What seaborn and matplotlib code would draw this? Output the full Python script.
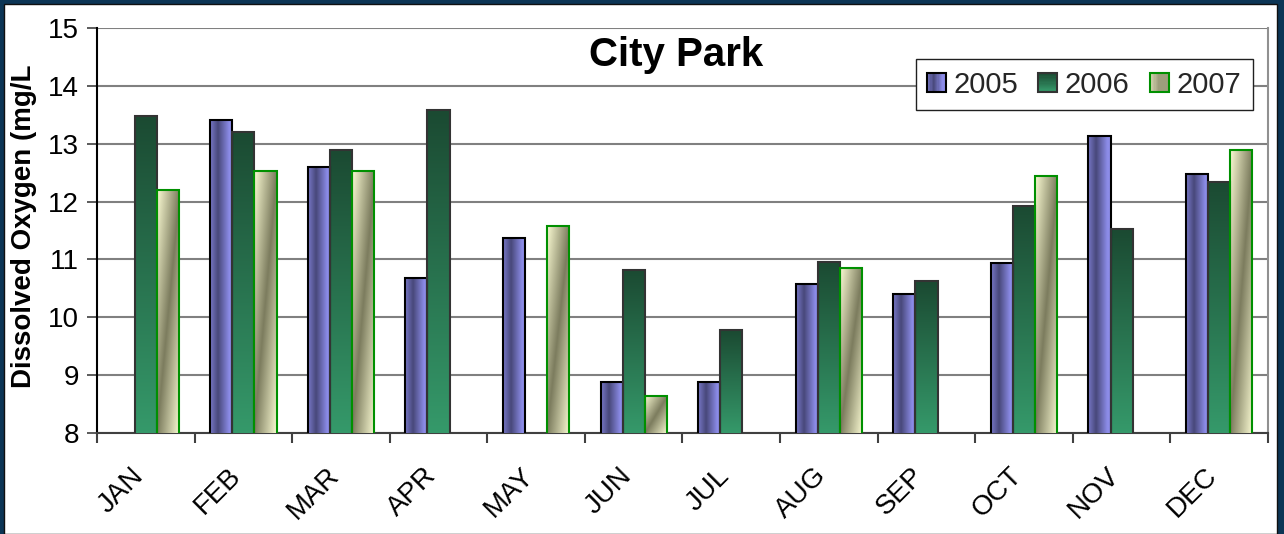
import numpy as np
import pandas as pd
import matplotlib
matplotlib.use("Agg")
import matplotlib.pyplot as plt
from matplotlib.patches import Rectangle
from matplotlib.legend_handler import HandlerBase
from matplotlib.colors import to_rgb
import matplotlib.transforms as mtransforms
import seaborn as sns

months = ["JAN", "FEB", "MAR", "APR", "MAY", "JUN", "JUL", "AUG", "SEP", "OCT", "NOV", "DEC"]
years = ["2005", "2006", "2007"]
v2005 = [np.nan, 13.41, 12.59, 10.68, 11.37, 8.89, 8.89, 10.58, 10.40, 10.94, 13.14, 12.48]
v2006 = [13.48, 13.21, 12.90, 13.59, np.nan, 10.82, 9.78, 10.96, 10.62, 11.93, 11.52, 12.34]
v2007 = [12.20, 12.52, 12.52, np.nan, 11.58, 8.64, np.nan, 10.85, np.nan, 12.45, np.nan, 12.89]
yticks = [8, 9, 10, 11, 12, 13, 14, 15]

rows = []
for yr, vals in zip(years, [v2005, v2006, v2007]):
    for m, v in zip(months, vals):
        rows.append({"month": m, "year": yr, "value": v})
df = pd.DataFrame(rows).dropna()

sns.set_theme(style="white")
plt.rcParams["font.family"] = ["Liberation Sans", "DejaVu Sans"]

fig = plt.figure(figsize=(12.84, 5.34), dpi=100)
fig.patch.set_facecolor("#0c3555")
fig.patches.append(Rectangle((4 / 1284, 0), 1273 / 1284, 530 / 534,
                             transform=fig.transFigure, facecolor="white",
                             edgecolor="#101010", lw=1.0, zorder=-10))
ax = fig.add_axes([97 / 1284, 101 / 534, 1171 / 1284, 405 / 534])
ax.set_facecolor("white")

palette = {"2005": "#6a6ab8", "2006": "#2a7a50", "2007": "#c8c8a0"}
edges = {"2005": "#000000", "2006": "#333333", "2007": "#009000"}

sns.barplot(data=df, x="month", y="value", hue="year", order=months,
            hue_order=years, palette=palette, width=0.68, gap=0,
            errorbar=None, legend=False, ax=ax, zorder=3)

def grad_img(year, n=64):
    u = np.linspace(0, 1, n)
    if year == "2005":
        light = np.array(to_rgb("#8c8ce8"))
        dark = np.array(to_rgb("#48487a"))
        t = np.interp(u, [0, 0.35, 0.85, 1.0], [0.3, 1.0, 0.0, 0.0])
        row = light[None, :] * (1 - t[:, None]) + dark[None, :] * t[:, None]
        return np.tile(row[None, :, :], (n, 1, 1))
    if year == "2006":
        top = np.array(to_rgb("#1b4a32"))
        bot = np.array(to_rgb("#35996a"))
        t = u  # 0 at top row
        col = top[None, :] * (1 - t[:, None]) + bot[None, :] * t[:, None]
        return np.tile(col[:, None, :], (1, n, 1))
    cream = np.array(to_rgb("#fafad2"))
    olive = np.array(to_rgb("#7c7c5e"))
    U, V = np.meshgrid(u, u)  # V: 0 at top row
    s = U + V  # tl=0, tr=1, bl=1, br=2
    t = 1 - np.abs(s - 1)
    return cream[None, None, :] * (1 - t[..., None]) + olive[None, None, :] * t[..., None]

ymin, ymax = 8, 15
for yr, cont in zip(years, ax.containers):
    img = grad_img(yr)
    for p in cont.patches:
        h = p.get_height()
        if not np.isfinite(h):
            continue
        x0, w = p.get_x(), p.get_width()
        y1 = p.get_y() + h
        y0 = max(p.get_y(), ymin)
        ax.imshow(img, extent=[x0, x0 + w, y0, y1], aspect="auto", zorder=3,
                  interpolation="bilinear")
        p.set_facecolor("none")
        p.set_edgecolor(edges[yr])
        p.set_linewidth(1.5)
        p.set_zorder(4)

ax.set_xlim(-0.5, 11.5)
ax.set_ylim(ymin, ymax)
ax.set_yticks(yticks)
ax.yaxis.grid(True, color="#808080", lw=1.5, zorder=0)
ax.set_axisbelow(True)
ax.set_xlabel("")
ax.set_ylabel("")

ax.spines["top"].set_visible(False)
ax.spines["left"].set_color("black")
ax.spines["left"].set_linewidth(1.5)
ax.spines["bottom"].set_color("#404040")
ax.spines["bottom"].set_linewidth(1.5)
ax.spines["right"].set_color("#909090")
ax.spines["right"].set_linewidth(1.5)

ax.tick_params(axis="y", which="major", left=True, length=7, width=1.2,
               color="#404040", labelsize=20, pad=6, labelcolor="black")
ax.set_xticks(np.arange(-0.5, 12, 1), minor=True)
ax.tick_params(axis="x", which="minor", bottom=True, length=7, width=1.5,
               color="#404040")
ax.tick_params(axis="x", which="major", bottom=False, length=0, pad=28)
ax.set_xticks(range(len(months)))
ax.set_xticklabels(months, rotation=45, ha="right", va="center",
                   rotation_mode="anchor", fontsize=20, color="black")
shift = mtransforms.ScaledTranslation(-6 / 100, 0, fig.dpi_scale_trans)
for lab in ax.get_xticklabels():
    lab.set_transform(lab.get_transform() + shift)

fig.text(676 / 1284, 1 - 55 / 534, "City Park", ha="center", va="center",
         fontsize=29, fontweight="bold", color="black")
fig.text(24 / 1284, 1 - 226 / 534, "Dissolved Oxygen (mg/L", rotation=90,
         ha="center", va="center", fontsize=20, fontweight="bold", color="black")


class GradHandler(HandlerBase):
    def __init__(self, year):
        super().__init__()
        self.year = year

    def create_artists(self, legend, orig_handle, xdescent, ydescent, width,
                       height, fontsize, trans):
        img = grad_img(self.year, n=16)
        arts = []
        n = 16
        side = height * 1.0
        x0 = -xdescent + (width - side) / 2
        y0 = -ydescent + (height - side) / 2
        if self.year == "2006":
            for i in range(n):
                c = img[n - 1 - i, 0]
                arts.append(Rectangle((x0, y0 + side * i / n), side, side / n + 0.3,
                                      facecolor=c, edgecolor="none", transform=trans))
        elif self.year == "2005":
            for i in range(n):
                c = img[0, i]
                arts.append(Rectangle((x0 + side * i / n, y0), side / n + 0.3, side,
                                      facecolor=c, edgecolor="none", transform=trans))
        else:
            for i in range(n):
                c = img[n // 2, i] * 0.5 + img[0, i] * 0.5
                arts.append(Rectangle((x0 + side * i / n, y0), side / n + 0.3, side,
                                      facecolor=c, edgecolor="none", transform=trans))
        arts.append(Rectangle((x0, y0), side, side, facecolor="none",
                              edgecolor=edges[self.year], lw=1.5, transform=trans))
        return arts


handles = [Rectangle((0, 0), 1, 1) for _ in years]
leg = ax.legend(handles, years, ncol=3, loc="upper right",
                bbox_to_anchor=(0.987, 0.9235), borderaxespad=0,
                fontsize=21, frameon=True, fancybox=False, edgecolor="#202020",
                framealpha=1, handlelength=0.62, handleheight=0.62,
                handletextpad=0.28, columnspacing=0.7, borderpad=0.4,
                handler_map={h: GradHandler(y) for h, y in zip(handles, years)})
leg.get_frame().set_linewidth(1.0)
leg.set_zorder(10)

fig.savefig("out.png", dpi=100, facecolor=fig.get_facecolor())
